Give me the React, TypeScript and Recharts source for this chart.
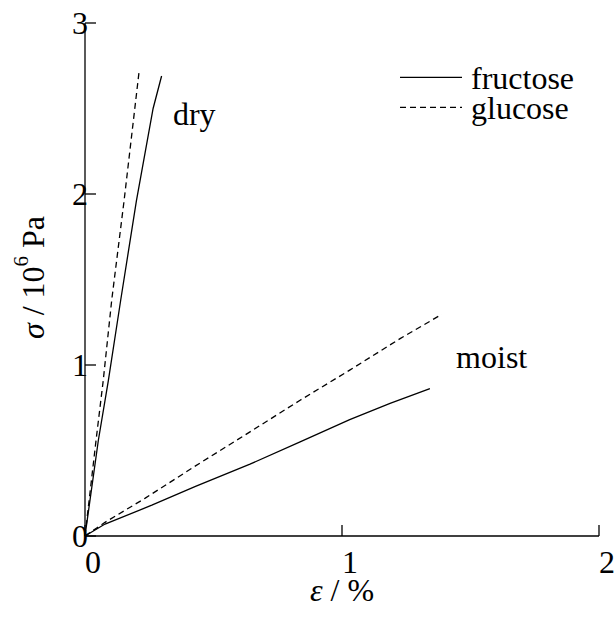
import React from 'react';
import { LineChart, Line, XAxis, YAxis, Legend, Label, ReferenceDot } from 'recharts';

// strain (%) / stress (10^6 Pa)
const dryFructoseX = [0, 0.052, 0.091, 0.139, 0.2, 0.265, 0.298];
const dryFructoseY = [0, 0.56, 0.91, 1.38, 1.96, 2.5, 2.69];
const dryGlucoseX = [0, 0.043, 0.071, 0.104, 0.152, 0.21];
const dryGlucoseY = [0, 0.56, 0.91, 1.38, 1.96, 2.71];
const moistFructoseX = [0, 0.078, 0.26, 0.43, 0.642, 0.837, 1.03, 1.187, 1.342];
const moistFructoseY = [0, 0.07, 0.18, 0.29, 0.42, 0.55, 0.68, 0.775, 0.862];
const moistGlucoseX = [0, 0.078, 0.233, 0.43, 0.642, 0.837, 1.03, 1.226, 1.388];
const moistGlucoseY = [0, 0.08, 0.22, 0.41, 0.609, 0.794, 0.97, 1.154, 1.296];

const xTicks = [0, 1, 2];
const yTicks = [0, 1, 2, 3];

// annotation anchors (data coords, text starts here)
const dryLabel = { x: 0.342, y: 2.405, text: 'dry' };
const moistLabel = { x: 1.444, y: 0.98, text: 'moist' };

const toPoints = (xs: number[], ys: number[]) => xs.map((x, i) => ({ x, y: ys[i] }));

const FONT = '"Liberation Serif", "Times New Roman", serif';
const FS = 32;
const fontStyle = { fontFamily: FONT };
const DASH = '6 4';

function LegendBox({ payload }: any) {
  const items = (payload || []).filter((p: any) => p.type !== 'none');
  return (
    <svg width={200} height={70} style={{ overflow: 'visible' }}>
      {items.map((item: any, i: number) => (
        <g key={item.value}>
          <line
            x1={5}
            x2={67}
            y1={17.3 + i * 30}
            y2={17.3 + i * 30}
            stroke="#000"
            strokeWidth={1.3}
            strokeDasharray={item.payload?.strokeDasharray}
          />
          <text x={76} y={29.3 + i * 30} style={fontStyle} fontSize={FS} fill="#000">
            {item.value}
          </text>
        </g>
      ))}
    </svg>
  );
}

const annotation = (text: string) => (props: any) => {
  const vb = props.viewBox || {};
  return (
    <text x={vb.x} y={vb.y} style={fontStyle} fontSize={FS} fill="#000">
      {text}
    </text>
  );
};

export default function App() {
  const tickStyle = { fill: '#000', fontSize: FS, style: fontStyle };

  return (
    <div style={{ position: 'absolute', left: 0, top: 0, background: '#fff', fontFamily: FONT }}>
      <LineChart width={616} height={617} margin={{ top: 23, right: 17, left: 0, bottom: 0 }} style={fontStyle}>
        <XAxis
          type="number"
          dataKey="x"
          domain={[0, 2]}
          ticks={xTicks}
          height={81}
          tickSize={-11}
          tickMargin={25}
          tick={{ ...tickStyle, dx: 8 }}
          stroke="#000"
          strokeWidth={1.3}
        >
          <Label
            content={(p: any) => {
              const vb = p.viewBox;
              return (
                <text x={vb.x + vb.width / 2} y={601} textAnchor="middle" style={fontStyle} fontSize={FS} fill="#000">
                  <tspan fontStyle="italic">ε</tspan>
                  <tspan> / %</tspan>
                </text>
              );
            }}
          />
        </XAxis>
        <XAxis xAxisId="top" orientation="top" type="number" domain={[0, 2]} height={0} tick={false} tickLine={false} stroke="#000" strokeWidth={1.3} />
        <YAxis
          type="number"
          domain={[0, 3]}
          ticks={yTicks}
          width={85}
          tickSize={-11}
          tickMargin={8}
          tick={tickStyle}
          stroke="#000"
          strokeWidth={1.3}
        >
          <Label
            content={(p: any) => {
              const vb = p.viewBox;
              const cx = 33;
              const cy = vb.y + vb.height / 2 - 2;
              return (
                <text
                  x={cx}
                  y={cy}
                  transform={`rotate(-90, ${cx}, ${cy})`}
                  textAnchor="middle"
                  dominantBaseline="central"
                  style={fontStyle}
                  fontSize={FS}
                  fill="#000"
                >
                  <tspan fontStyle="italic">σ</tspan>
                  <tspan> / 10</tspan>
                  <tspan fontSize={21} dy={-12}>6</tspan>
                  <tspan dy={12}> Pa</tspan>
                </text>
              );
            }}
          />
        </YAxis>
        <YAxis yAxisId="right" orientation="right" type="number" domain={[0, 3]} width={0} tick={false} tickLine={false} stroke="#000" strokeWidth={1.3} />

        <Line data={toPoints(dryFructoseX, dryFructoseY)} dataKey="y" name="fructose" type="linear" stroke="#000" strokeWidth={1.3} dot={false} isAnimationActive={false} />
        <Line data={toPoints(dryGlucoseX, dryGlucoseY)} dataKey="y" name="glucose" type="linear" stroke="#000" strokeWidth={1.3} strokeDasharray={DASH} dot={false} isAnimationActive={false} />
        <Line data={toPoints(moistFructoseX, moistFructoseY)} dataKey="y" name="moist fructose" legendType="none" type="linear" stroke="#000" strokeWidth={1.3} dot={false} isAnimationActive={false} />
        <Line data={toPoints(moistGlucoseX, moistGlucoseY)} dataKey="y" name="moist glucose" legendType="none" type="linear" stroke="#000" strokeWidth={1.3} strokeDasharray={DASH} dot={false} isAnimationActive={false} />

        <ReferenceDot x={dryLabel.x} y={dryLabel.y} r={0} fill="none" stroke="none" label={annotation(dryLabel.text)} />
        <ReferenceDot x={moistLabel.x} y={moistLabel.y} r={0} fill="none" stroke="none" label={annotation(moistLabel.text)} />

        <Legend
          layout="vertical"
          align="center"
          verticalAlign="middle"
          wrapperStyle={{ top: 60, left: 395, width: 200 }}
          content={<LegendBox />}
        />
      </LineChart>
    </div>
  );
}
